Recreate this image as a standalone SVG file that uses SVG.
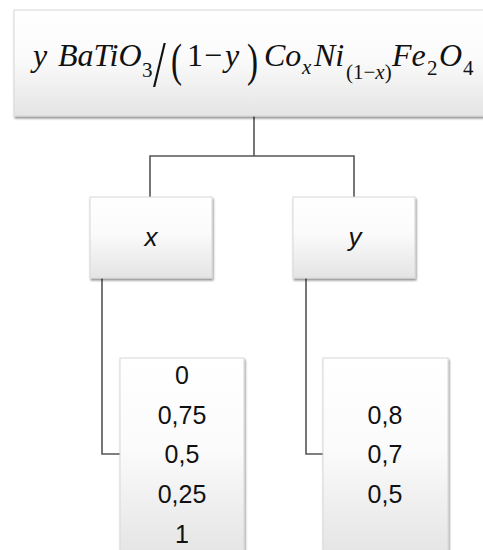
<svg xmlns="http://www.w3.org/2000/svg" width="483" height="550" viewBox="0 0 483 550">
<style>
.box{fill:url(#g);stroke:#d8d8d8;stroke-width:1}
.conn{fill:none;stroke:#555;stroke-width:1.6}
.val{font-family:"Liberation Sans",Arial,sans-serif;font-size:25px;fill:#111;text-anchor:middle}
.var{font-family:"Liberation Sans",Arial,sans-serif;font-size:26px;font-style:italic;fill:#111;text-anchor:middle}
.m{font-family:"Liberation Serif","Times New Roman",serif;font-size:32px;fill:#111}
.i{font-style:italic}
.s{font-size:21px}
.sl{font-size:66px}
.p{font-size:46px}
</style>
<defs>
<linearGradient id="g" x1="0" y1="0" x2="0" y2="1">
<stop offset="0" stop-color="#ffffff"/>
<stop offset="0.45" stop-color="#fbfbfb"/>
<stop offset="1" stop-color="#e4e4e4"/>
</linearGradient>
<filter id="sh" x="-10%" y="-10%" width="130%" height="130%">
<feGaussianBlur in="SourceAlpha" stdDeviation="1.2"/>
<feOffset dx="1" dy="2" result="b"/>
<feComponentTransfer><feFuncA type="linear" slope="0.45"/></feComponentTransfer>
<feMerge><feMergeNode/><feMergeNode in="SourceGraphic"/></feMerge>
</filter>
</defs>
<rect width="483" height="550" fill="#fff"/>
<g id="connectors">
<path class="conn" d="M254 116V156M150 197V156H354V197"/>
<path class="conn" d="M102 278V454H120"/>
<path class="conn" d="M306 278V454H323"/>
</g>
<g id="top">
<rect class="box" x="14" y="10" width="480" height="106" filter="url(#sh)"/>
<text class="m"><tspan class="i" x="33" y="66">y</tspan><tspan class="i" x="58" y="66">BaTiO</tspan><tspan class="s" x="142" y="77">3</tspan></text>
<text class="m sl" transform="translate(153 86) scale(0.7 1)">/</text>
<text class="m p" transform="translate(171 76) scale(0.72 1)">(</text>
<text class="m"><tspan x="187" y="66">1</tspan><tspan x="204" y="66">−</tspan><tspan class="i" x="225" y="66">y</tspan></text>
<text class="m p" transform="translate(247 76) scale(0.72 1)">)</text>
<text class="m"><tspan class="i" x="264" y="66">Co</tspan><tspan class="i s" x="302" y="74">x</tspan><tspan class="i" x="314" y="66">Ni</tspan><tspan class="s" x="346" y="79">(1−</tspan><tspan class="i s" y="79">x</tspan><tspan class="s" y="79">)</tspan><tspan class="i" x="392" y="66">Fe</tspan><tspan class="s" x="427" y="75">2</tspan><tspan class="i" x="439" y="66">O</tspan><tspan class="s" x="463" y="75">4</tspan></text>
</g>
<g id="nx">
<rect class="box" x="90" y="197" width="122" height="81" filter="url(#sh)"/>
<text class="var" x="151" y="246">x</text>
</g>
<g id="ny">
<rect class="box" x="293" y="197" width="122" height="81" filter="url(#sh)"/>
<text class="var" x="355" y="246">y</text>
</g>
<g id="xvals">
<rect class="box" x="120" y="358" width="124" height="200" filter="url(#sh)"/>
<text class="val" x="182" y="384">0</text>
<text class="val" x="182" y="424">0,75</text>
<text class="val" x="182" y="463">0,5</text>
<text class="val" x="182" y="503">0,25</text>
<text class="val" x="182" y="543">1</text>
</g>
<g id="yvals">
<rect class="box" x="323" y="358" width="125" height="200" filter="url(#sh)"/>
<text class="val" x="385" y="424">0,8</text>
<text class="val" x="385" y="463">0,7</text>
<text class="val" x="385" y="503">0,5</text>
</g>
</svg>
